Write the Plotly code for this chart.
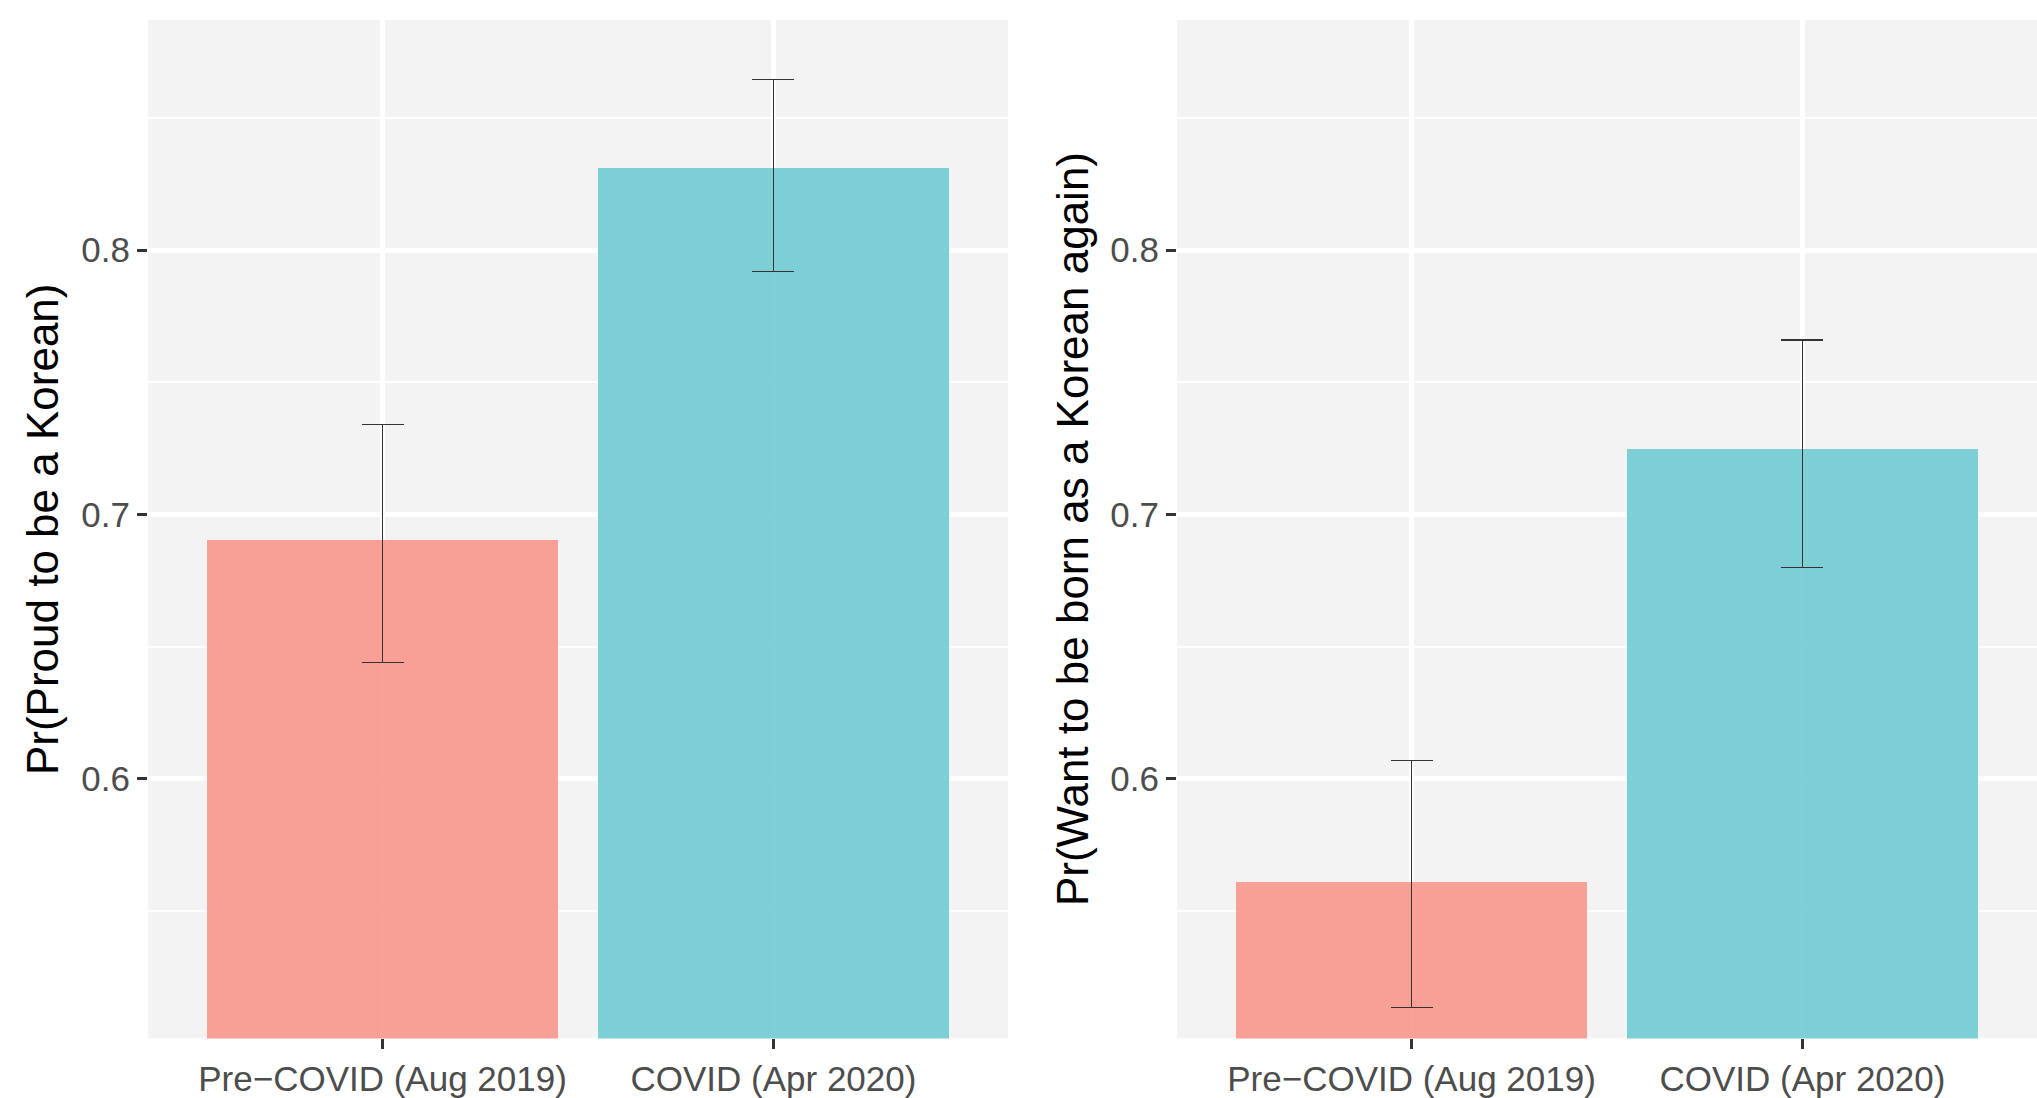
import plotly.graph_objects as go

categories = ["Pre\u2212COVID (Aug 2019)", "COVID (Apr 2020)"]
bar_colors = ["rgba(250,151,140,0.9)", "rgba(113,203,209,0.9)"]

proud_mean = [0.6905, 0.831]
proud_upper = [0.734, 0.8645]
proud_lower = [0.644, 0.792]

born_mean = [0.561, 0.725]
born_upper = [0.607, 0.766]
born_lower = [0.5135, 0.680]

y_titles = ["Pr(Proud to be a Korean)", "Pr(Want to be born as a Korean again)"]
y_tickvals = [0.6, 0.7, 0.8]
y_ticktext = ["0.6", "0.7", "0.8"]

FONT = "Liberation Sans, Arial, sans-serif"
W, H = 2037, 1098
xpos = list(range(len(categories)))

fig = go.Figure()
panels = [(proud_mean, proud_upper, proud_lower), (born_mean, born_upper, born_lower)]
for i, (m, up, lo) in enumerate(panels):
    xa = "x" if i == 0 else "x2"
    ya = "y" if i == 0 else "y2"
    fig.add_trace(go.Bar(
        x=xpos, y=m, base=0, width=0.9,
        marker=dict(color=bar_colors, line=dict(width=0)),
        error_y=dict(type="data", symmetric=False,
                     array=[u - v for u, v in zip(up, m)],
                     arrayminus=[v - l for v, l in zip(m, lo)],
                     color="#333333", thickness=1.3, width=21),
        xaxis=xa, yaxis=ya, showlegend=False, hoverinfo="skip"))

axis_common = dict(
    showline=False, zeroline=False, ticks="outside", ticklen=10, tickwidth=3,
    tickcolor="#333333", gridcolor="white", gridwidth=4.5,
    tickfont=dict(family=FONT, size=35, color="#4D4D4D"),
)
xcommon = dict(axis_common, tickvals=xpos, ticktext=categories, range=[-0.6, 1.6])
ycommon = dict(axis_common, range=[0.5017, 0.8872], tickvals=y_tickvals, ticktext=y_ticktext,
               minor=dict(tickvals=[0.55, 0.65, 0.75, 0.85], showgrid=True,
                          gridcolor="white", gridwidth=2.2, ticks=""))

fig.update_layout(
    width=W, height=H, autosize=False,
    margin=dict(l=0, r=0, t=0, b=0),
    paper_bgcolor="white", plot_bgcolor="#F3F3F3",
    bargap=0,
    xaxis=dict(xcommon, domain=[148/W, 1008/W], anchor="y"),
    xaxis2=dict(xcommon, domain=[1177/W, 1.0], anchor="y2"),
    yaxis=dict(ycommon, domain=[1 - 1046/H, 1 - 20/H], anchor="x"),
    yaxis2=dict(ycommon, domain=[1 - 1046/H, 1 - 20/H], anchor="x2"),
    font=dict(family=FONT),
)

for xc, t in zip([42, 1072], y_titles):
    fig.add_annotation(text=t, xref="paper", yref="paper", x=xc/W, y=1 - 533/H,
                       textangle=-90, showarrow=False, xanchor="center", yanchor="middle",
                       font=dict(family=FONT, size=44, color="black"))

post = ("document.documentElement.style.margin='0';document.body.style.margin='0';"
        "document.documentElement.style.overflow='hidden';document.body.style.overflow='hidden';"
        "var gd=document.getElementById('{plot_id}');"
        "Plotly.relayout(gd,{width:%d,height:%d});" % (W, H))

fig.write_html("out.html", post_script=post, default_width="%dpx" % W, default_height="%dpx" % H,
               config={"displayModeBar": False})
